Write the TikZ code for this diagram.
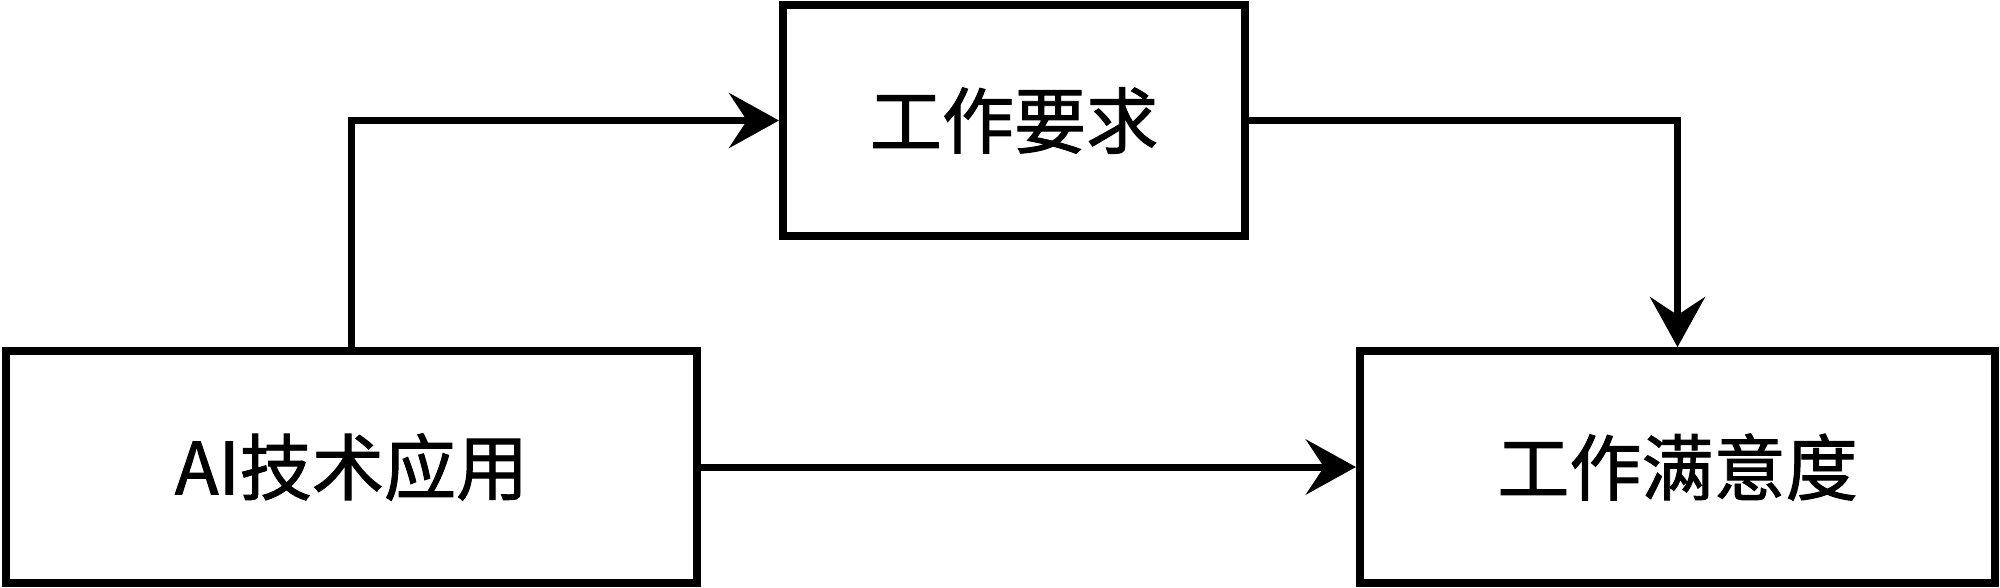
\documentclass[tikz,border=0pt]{standalone}
\usepackage{fontspec}
\setmainfont{Noto Sans CJK SC}[FakeBold=1.3]
\usetikzlibrary{arrows.meta}
\tikzset{
  boxnode/.style={draw=black, line width=2.2pt, inner sep=0pt, font=\fontsize{20.5pt}{24pt}\selectfont},
  conn/.style={draw=black, line width=2pt, -{Stealth[length=5mm,width=5.5mm,inset=1.8mm]}}
}
\begin{document}
\begin{tikzpicture}[x=0.01cm,y=-0.01cm]
\useasboundingbox (0,0) rectangle (2000,587);
\node[boxnode, minimum width=4.62cm, minimum height=2.31cm] (B) at (1014,120.5) {工作要求};
\node[boxnode, minimum width=6.91cm, minimum height=2.32cm] (A) at (351.5,467) {AI技术应用};
\node[boxnode, minimum width=6.35cm, minimum height=2.32cm] (C) at (1677.5,467) {工作满意度};
\draw[conn] (A.north) |- (B.west);
\draw[conn] (B.east) -| (C.north);
\draw[conn] (A.east) -- (C.west);
\end{tikzpicture}
\end{document}
